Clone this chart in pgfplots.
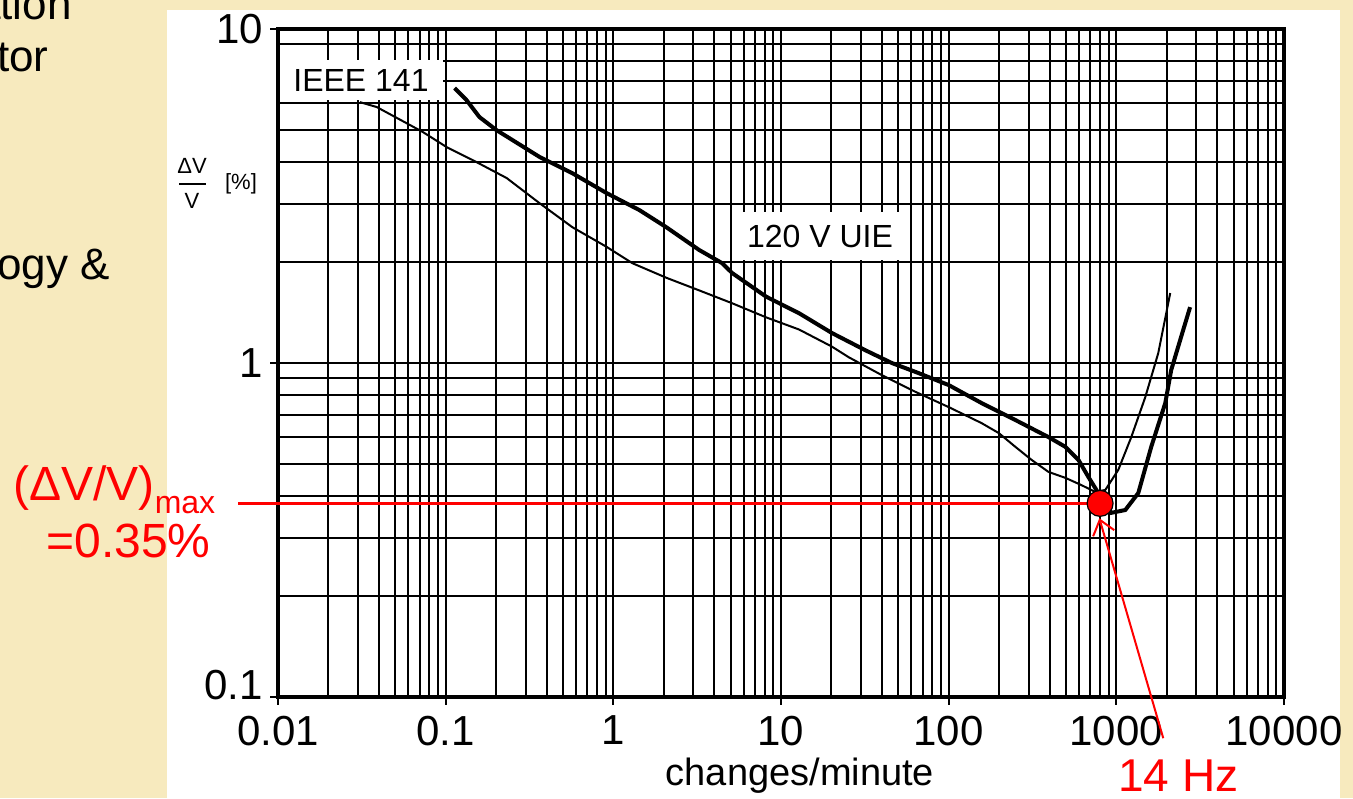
\documentclass[border=0pt]{standalone}
\usepackage{fontspec}
\setmainfont{Liberation Sans}
\usepackage{pgfplots}
\pgfplotsset{compat=1.18}
\usetikzlibrary{arrows.meta}
\definecolor{slidebg}{RGB}{247,234,190}

\begin{document}
\begin{tikzpicture}
\useasboundingbox (-139pt,-50.5pt) rectangle (537.5pt,348.5pt);
\clip (-139pt,-50.5pt) rectangle (537.5pt,348.5pt);
% pixel frame: (px,py) of the 1353x798 picture
\begin{scope}[shift={(-139pt,348.5pt)}, x=0.5pt, y=-0.5pt]
\fill[slidebg] (0,0) rectangle (1353,798);
\fill[white] (167,10) rectangle (1340,798);
% slide text cut off at the left edge
\node[anchor=base east, font=\fontsize{22}{22}\selectfont, inner sep=0] at (72,20) {ation};
\node[anchor=base east, font=\fontsize{22}{22}\selectfont, inner sep=0] at (49,72) {tor};
\node[anchor=base east, font=\fontsize{22}{22}\selectfont, inner sep=0] at (110,280) {ogy \&};
\end{scope}

\begin{axis}[
    at={(0,0)}, anchor=south west,
    scale only axis,
    width=503pt, height=334pt,
    xmode=log, ymode=log,
    xmin=0.01, xmax=10000,
    ymin=0.1, ymax=10,
    grid=both,
    major grid style={line width=1pt, black},
    minor grid style={line width=1pt, black},
    axis line style={line width=1.6pt, black},
    xtick={0.01,0.1,1,10,100,1000,10000},
    xticklabels={0.01,0.1,1,10,100,1000,10000},
    ytick={0.1,1,10},
    yticklabels={\raisebox{6pt}[\height][\depth]{0.1},1,10},
    tick pos=left,
    tick align=outside,
    major tick length=4pt,
    minor tick length=0pt,
    tick style={line width=1pt, black},
    ticklabel style={font=\fontsize{21}{21}\selectfont},
    xticklabel style={yshift=-2pt},
    clip=false,
]
% IEEE 141
\addplot[black, line width=1pt] coordinates {
    (0.0308,6.04) (0.0388,5.84) (0.0729,4.92) (0.1014,4.43) (0.145,4.05)
    (0.231,3.58) (0.363,3.01) (0.570,2.55) (0.908,2.23) (1.30,1.99)
    (2.07,1.80) (3.25,1.65) (5.11,1.51) (8.15,1.37) (12.8,1.26)
    (20.1,1.12) (25.4,1.04) (39.9,0.920) (63.6,0.819) (100,0.738)
    (157,0.661) (199,0.617) (250,0.561) (312,0.513) (394,0.472)
    (497,0.453) (619,0.431) (750,0.411) (860,0.417) (1028,0.479)
    (1228,0.600) (1489,0.791) (1778,1.07) (1985,1.41) (2096,1.62)
};
% 120 V UIE
\addplot[black, line width=2pt] coordinates {
    (0.113,6.66) (0.133,6.13) (0.159,5.45) (0.201,4.98) (0.363,4.14)
    (0.570,3.70) (0.908,3.23) (1.43,2.87) (2.07,2.55) (3.25,2.18)
    (4.46,1.99) (5.11,1.86) (8.15,1.58) (12.8,1.41) (20.1,1.23)
    (32.1,1.09) (45.8,1.0) (63.6,0.940) (100,0.859) (157,0.759)
    (250,0.675) (394,0.600) (497,0.561) (594,0.513) (681,0.456)
    (781,0.408) (934,0.356) (1131,0.363) (1352,0.408) (1615,0.561)
    (1959,0.759) (2125,0.953) (2438,1.20) (2754,1.47)
};
% max point
\addplot[red, line width=1.8pt] coordinates {(0.00578,0.38) (800,0.38)};
\addplot[red, line width=1pt, -{Straight Barb[length=7pt,width=11pt]}]
    coordinates {(1905,0.0753) (792,0.343)};
\addplot[only marks, mark=*, mark size=6.5pt,
    mark options={fill=red, draw=black, line width=0.6pt}]
    coordinates {(800,0.38)};
\end{axis}

\begin{scope}[shift={(-139pt,348.5pt)}, x=0.5pt, y=-0.5pt]
% curve labels
\node[fill=white, inner sep=0, minimum width=81.5pt, minimum height=20pt,
      font=\fontsize{16}{16}\selectfont] at (361,80) {IEEE 141};
\node[fill=white, inner sep=0, minimum width=82.5pt, minimum height=24pt,
      font=\fontsize{16}{16}\selectfont] at (820,236) {120 V UIE};
% axis titles
\node[anchor=base, font=\fontsize{19}{19}\selectfont] at (800,785) {changes/minute};
\node[inner sep=0, font=\fontsize{11}{11}\selectfont] at (192,166) {ΔV};
\draw[line width=0.8pt] (179,184) -- (206,184);
\node[inner sep=0, font=\fontsize{11}{11}\selectfont] at (192,201) {V};
\node[inner sep=0, font=\fontsize{11}{11}\selectfont] at (241,184) {[\%]};
% annotations
\node[red, anchor=base west, inner sep=0, font=\fontsize{24}{24}\selectfont] at (13,500)
    {(ΔV/V)\raisebox{-6.5pt}{\fontsize{16}{16}\selectfont max}};
\node[red, anchor=base east, inner sep=0, font=\fontsize{24}{24}\selectfont] at (211,557) {=0.35\%};
\node[red, anchor=base west, inner sep=0, font=\fontsize{23}{23}\selectfont] at (1118,791) {14 Hz};
\end{scope}
\end{tikzpicture}
\end{document}
